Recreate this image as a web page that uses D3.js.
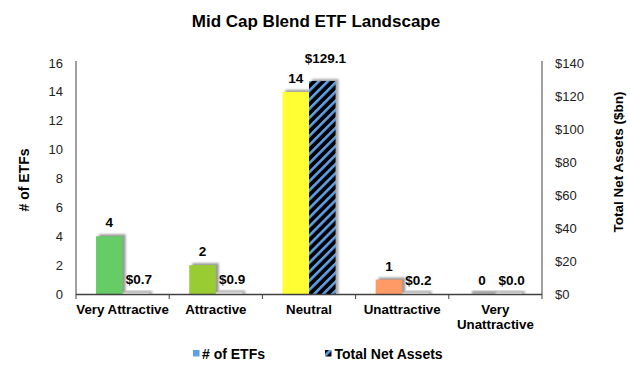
<!DOCTYPE html>
<html><head><meta charset="utf-8">
<script src="https://cdn.jsdelivr.net/npm/d3@7"></script>
<style>body{margin:0;background:#fff}svg{display:block;font-family:Arial,"Liberation Sans",sans-serif}</style>
</head><body><svg id="c" width="630" height="368"></svg>
<script>
const categories = ["Very Attractive","Attractive","Neutral","Unattractive","Very Unattractive"];
const etfCounts = [4,2,14,1,0];
const netAssets = [0.7,0.9,129.1,0.2,0.0];
const etfColors = ["#66CC66","#99CC33","#FFFF33","#FF9966","#CCCCCC"];
const leftTicks = [0,2,4,6,8,10,12,14,16];
const rightTicks = [0,20,40,60,80,100,120,140];

const svg = d3.select("#c");
const L=76,R=542,T=63,B=294;
const x = d3.scaleBand().domain(categories).range([L,R]).padding(0);
const yL = d3.scaleLinear().domain([0,16]).range([B,T]);
const yR = d3.scaleLinear().domain([0,140]).range([B,T]);
const bw = x.bandwidth()*0.285;

const defs = svg.append("defs");
const pat = defs.append("pattern").attr("id","hatch").attr("patternUnits","userSpaceOnUse")
  .attr("width",6.4).attr("height",6.4).attr("patternTransform","rotate(45)");
pat.append("rect").attr("width",6.4).attr("height",6.4).attr("fill","#000");
pat.append("rect").attr("width",2.6).attr("height",6.4).attr("fill","#5DA0E8");
const f = defs.append("filter").attr("id","blur").attr("x","-20%").attr("y","-20%").attr("width","140%").attr("height","140%");
f.append("feGaussianBlur").attr("stdDeviation",0.8);

// title
svg.append("text").attr("x",316).attr("y",27).attr("text-anchor","middle")
  .attr("font-size",17).attr("font-weight","bold").text("Mid Cap Blend ETF Landscape");

// bars
const g = svg.append("g");
categories.forEach((c,i)=>{
  const cx = x(c)+x.bandwidth()/2;
  const ey = yL(etfCounts[i]), eh = Math.max(B-ey,1.2);
  g.append("rect").attr("x",cx-bw+3).attr("y",B-eh-2).attr("width",bw).attr("height",eh+2)
    .attr("fill","#999").attr("filter","url(#blur)");
  if(etfCounts[i]>0) g.append("rect").attr("x",cx-bw).attr("y",ey).attr("width",bw).attr("height",B-ey).attr("fill",etfColors[i]);
  const ty = yR(netAssets[i]), th = Math.max(B-ty,1.2);
  g.append("rect").attr("x",cx+3).attr("y",B-th-2).attr("width",bw).attr("height",th+2)
    .attr("fill","#aaa").attr("filter","url(#blur)");
  g.append("rect").attr("x",cx).attr("y",B-th).attr("width",bw).attr("height",th)
    .attr("fill", netAssets[i]>5 ? "url(#hatch)" : "#f4f4f4");
  g.append("text").attr("x",cx-bw/2).attr("y",ey-9).attr("text-anchor","middle")
    .attr("font-size",13.5).attr("font-weight","bold").text(d3.format("d")(etfCounts[i]));
  g.append("text").attr("x",cx+bw/2+3).attr("y",(netAssets[i]>5? ty-18 : ty-9)).attr("text-anchor","middle")
    .attr("font-size",13.5).attr("font-weight","bold").text("$"+d3.format(".1f")(netAssets[i]));
});

// axes
const ax = "#404040";
svg.append("line").attr("x1",L).attr("x2",L).attr("y1",T-2).attr("y2",B).attr("stroke",ax);
svg.append("line").attr("x1",R).attr("x2",R).attr("y1",T-2).attr("y2",B).attr("stroke",ax);
svg.append("line").attr("x1",L).attr("x2",R).attr("y1",B+0.5).attr("y2",B+0.5).attr("stroke",ax).attr("stroke-width",1.5);
const bnds = categories.map(c=>x(c)).concat([R]);
bnds.forEach(b=>svg.append("line").attr("x1",b).attr("x2",b).attr("y1",B).attr("y2",B+5).attr("stroke",ax));

leftTicks.forEach(t=>svg.append("text").attr("x",L-13).attr("y",yL(t)).attr("dy","0.35em")
  .attr("text-anchor","end").attr("font-size",13).attr("fill","#222").text(t));
rightTicks.forEach(t=>svg.append("text").attr("x",R+13).attr("y",yR(t)).attr("dy","0.35em")
  .attr("text-anchor","start").attr("font-size",13).attr("fill","#222").text("$"+t));

// category labels
categories.forEach(c=>{
  const cx = x(c)+x.bandwidth()/2;
  const words = c==="Very Unattractive" ? ["Very","Unattractive"] : [c];
  words.forEach((w,j)=>svg.append("text").attr("x",cx).attr("y",314+j*14.5).attr("text-anchor","middle")
    .attr("font-size",13.3).attr("font-weight","bold").text(w));
});

// axis titles
svg.append("text").attr("transform","translate(29,180) rotate(-90)").attr("text-anchor","middle")
  .attr("font-size",14).attr("font-weight","bold").text("# of ETFs");
svg.append("text").attr("transform","translate(623,162) rotate(-90)").attr("text-anchor","middle")
  .attr("font-size",13.5).attr("font-weight","bold").text("Total Net Assets ($bn)");

// legend
svg.append("rect").attr("x",193).attr("y",350).attr("width",6.5).attr("height",6.5).attr("fill","#5DA0E8");
svg.append("text").attr("x",202).attr("y",358.5).attr("font-size",14).attr("font-weight","bold").text("# of ETFs");
svg.append("rect").attr("x",325).attr("y",350).attr("width",6.5).attr("height",6.5).attr("fill","url(#hatch)");
svg.append("text").attr("x",334.5).attr("y",358.5).attr("font-size",14).attr("font-weight","bold").text("Total Net Assets");
</script></body></html>
